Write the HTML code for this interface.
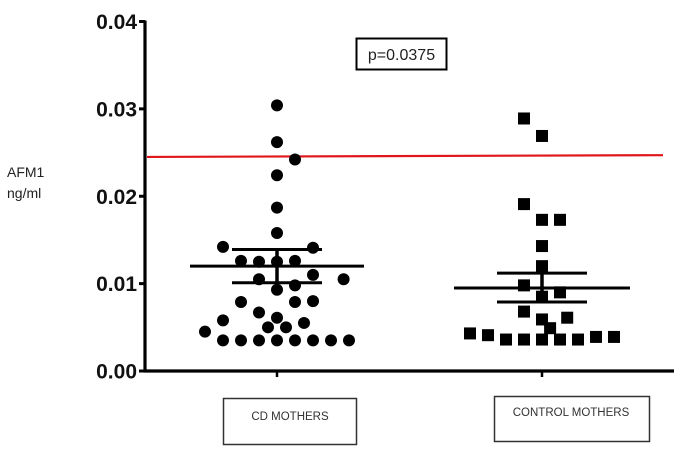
<!DOCTYPE html>
<html><head><meta charset="utf-8"><style>
html,body{margin:0;padding:0;background:#fff;}
svg{display:block;}
text{font-family:"Liberation Sans",Arial,sans-serif;}
</style></head><body>
<svg id="chart" width="685" height="451" viewBox="0 0 685 451" xmlns="http://www.w3.org/2000/svg">
  <g id="axes"></g>
  <g id="marks"></g>
  <text x="7" y="177" font-size="14" fill="#222">AFM1</text>
  <text x="7" y="198" font-size="14" fill="#222">ng/ml</text>
  <rect x="356.5" y="38.5" width="90" height="31" fill="#fff" stroke="#000" stroke-width="2"/>
  <text x="401.5" y="60" font-size="16" text-anchor="middle" fill="#222">p=0.0375</text>
  <rect x="223.5" y="398.5" width="133" height="46" fill="#fff" stroke="#333" stroke-width="1.5"/>
  <text x="290" y="420" font-size="11.5" text-anchor="middle" fill="#333">CD MOTHERS</text>
  <rect x="494.5" y="396.5" width="155" height="45" fill="#fff" stroke="#333" stroke-width="1.5"/>
  <text x="571" y="416" font-size="11.5" text-anchor="middle" fill="#333">CONTROL MOTHERS</text>
</svg>
<script>
// ---- data ----
const groups = ["CD MOTHERS", "CONTROL MOTHERS"];
const yTicks = [0, 0.01, 0.02, 0.03, 0.04];
const yTickLabels = ["0.00", "0.01", "0.02", "0.03", "0.04"];
const cdValues = [0.0304,0.0262,0.0242,0.0224,0.0187,0.0158,0.0142,0.0141,0.0126,0.0125,0.0125,0.0126,0.0110,0.0105,0.0105,0.0093,0.0098,0.0079,0.0079,0.0080,0.0067,0.0058,0.0061,0.0055,0.0045,0.0050,0.0050,0.0035,0.0035,0.0035,0.0035,0.0035,0.0035,0.0035,0.0035];
const cdSlots = [0,0,1,0,0,0,-3,2,-2,-1,0,1,2,3.7,-1,0,1,-2,1,2,-1,-3,0,1.5,-4,-0.5,0.5,-3,-2,-1,0,1,2,3,4];
const ctrlValues = [0.0289,0.0269,0.0191,0.0173,0.0173,0.0143,0.0120,0.0098,0.0090,0.0085,0.0068,0.0059,0.0061,0.0049,0.0043,0.0041,0.0036,0.0036,0.0036,0.0036,0.0036,0.0039,0.0039];
const ctrlSlots = [-1,0,-1,0,1,0,0,-1,1,0,-1,0,1.4,0.45,-4,-3,-2,-1,0,1,2,3,4];
const cdStats = {mean:0.0120, semHi:0.0139, semLo:0.0101};
const ctrlStats = {mean:0.0095, semHi:0.0112, semLo:0.0079};
const refLine = [0.0245, 0.0247];

// ---- scales ----
const y0 = 371, yTop = 21.5;
const yScale = v => y0 - v / 0.04 * (y0 - yTop);
const groupX = [277, 542];
const slotW = 18;
const NS = "http://www.w3.org/2000/svg";
const axes = document.getElementById('axes');
const marks = document.getElementById('marks');
function mk(tag, attrs, parent) {
  const e = document.createElementNS(NS, tag);
  for (const k in attrs) e.setAttribute(k, attrs[k]);
  parent.appendChild(e);
  return e;
}
// axes
let ya = mk('line', {x1:145, y1:yTop-1, x2:145, y2:y0+1.5, stroke:'#000','stroke-width':3.2}, axes);


let xa = mk('line', {x1:143.5, y1:y0, x2:674, y2:y0, stroke:'#000','stroke-width':3.2}, axes);


yTicks.forEach((t, i) => {
  const y = yScale(t);
  const tk = mk('line', {x1:139, y1:y, x2:145, y2:y, stroke:'#000','stroke-width':3}, axes);
  
  
  const lb = mk('text', {x:137, y:y+7.5, 'font-size':21, 'font-weight':'bold', 'text-anchor':'end', fill:'#111'}, axes);
  lb.textContent = yTickLabels[i];
  
  
});
groups.forEach((g, i) => {
  const tk = mk('line', {x1:groupX[i], y1:y0, x2:groupX[i], y2:y0+6, stroke:'#000','stroke-width':2.5}, axes);
  
  
});
// reference line
const rl = mk('line', {x1:147, y1:yScale(refLine[0]), x2:663, y2:yScale(refLine[1]), stroke:'#e0161b','stroke-width':2.2}, marks);


// points
cdValues.forEach((v, i) => {
  const c = mk('circle', {cx:groupX[0] + cdSlots[i]*slotW, cy:yScale(v), r:6, fill:'#000'}, marks);
  
  
});
ctrlValues.forEach((v, i) => {
  const r = mk('rect', {x:groupX[1] + ctrlSlots[i]*slotW - 6, y:yScale(v)-6, width:12, height:12, fill:'#000'}, marks);
  
  
});
// mean & sem
function stats(st, cx, meanHalf, semHalf, prefix) {
  const m = mk('line', {x1:cx-meanHalf, y1:yScale(st.mean), x2:cx+meanHalf, y2:yScale(st.mean), stroke:'#000','stroke-width':3}, marks);
  
  
  const v = mk('line', {x1:cx, y1:yScale(st.semHi), x2:cx, y2:yScale(st.semLo), stroke:'#000','stroke-width':3.5}, marks);
  
  
  [st.semHi, st.semLo].forEach(s => {
    const c = mk('line', {x1:cx-semHalf, y1:yScale(s), x2:cx+semHalf, y2:yScale(s), stroke:'#000','stroke-width':3}, marks);
    
    
  });
}
stats(cdStats, groupX[0], 87, 45, 'cd');
stats(ctrlStats, groupX[1], 88, 45, 'control');
</script>
</body></html>
